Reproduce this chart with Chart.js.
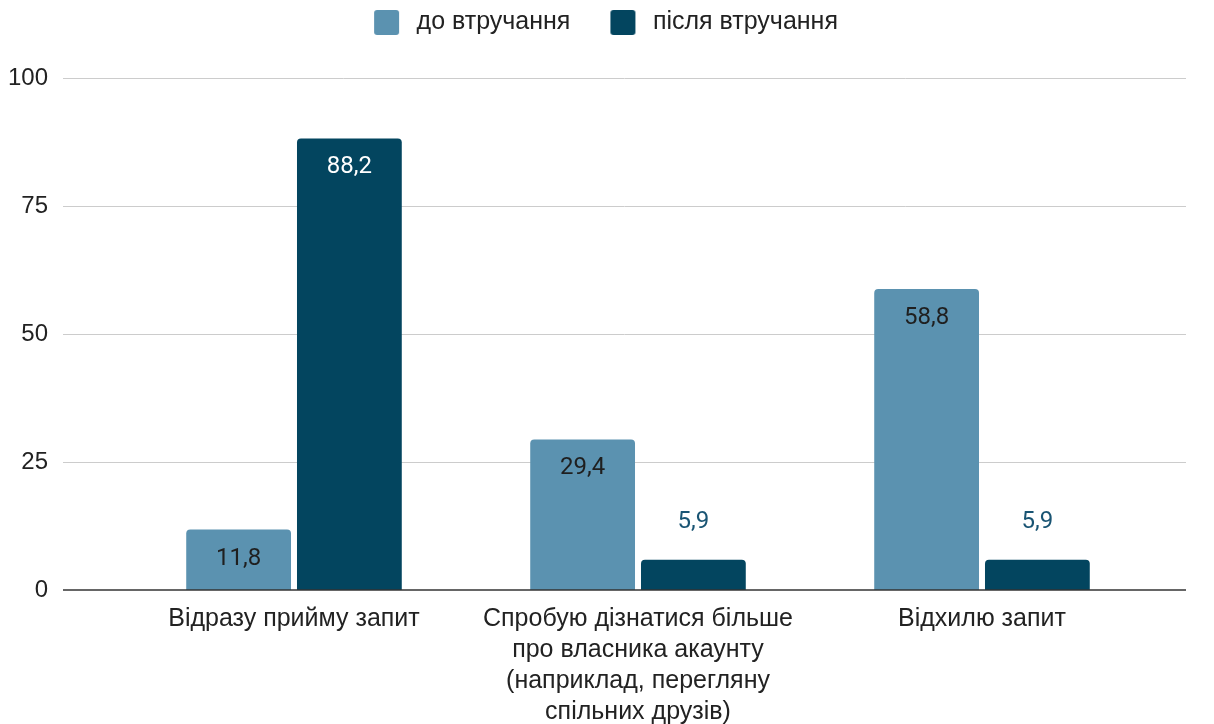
<!DOCTYPE html>
<html>
<head>
<meta charset="utf-8">
<script src="https://cdn.jsdelivr.net/npm/chart.js@4/dist/chart.umd.min.js"></script>
<style>
  html, body { margin: 0; padding: 0; background: #fff; }
  #wrap { width: 1214px; height: 724px; position: relative; }
</style>
</head>
<body>
<div id="wrap"><canvas id="chart"></canvas></div>
<script>
// data
const categories = [
    'Відразу прийму запит',
    ['Спробую дізнатися більше', 'про власника акаунту', '(наприклад, перегляну', 'спільних друзів)'],
    'Відхилю запит'
];
const seriesNames = ['до втручання', 'після втручання'];
const beforeValues = [11.8, 29.4, 58.8];
const afterValues = [88.2, 5.9, 5.9];
const yTicks = [0, 25, 50, 75, 100];

const lightBlue = '#5b92b0';
const darkBlue = '#03455f';
const sans = '"Liberation Sans", Arial, sans-serif';
const labelFont = '24px Roboto, sans-serif';

// legend swatch: rounded square, blank room on the left so the items space out like Sheets
function swatch(color) {
    const c = document.createElement('canvas');
    c.width = 60; c.height = 25;
    const g = c.getContext('2d');
    g.fillStyle = color;
    g.beginPath();
    g.roundRect(30, 0, 25, 25, 3);
    g.fill();
    return c;
}

// gridlines and y labels sit further out than the plot, like in Sheets
const sheetGrid = {
    id: 'sheetGrid',
    beforeDatasetsDraw(chart) {
        const y = chart.scales.y;
        const ctx = chart.ctx;
        ctx.save();
        ctx.strokeStyle = '#cccccc';
        ctx.lineWidth = 1;
        ctx.font = '24px ' + sans;
        ctx.fillStyle = '#222222';
        ctx.textAlign = 'right';
        ctx.textBaseline = 'middle';
        y.ticks.forEach(t => {
            const py = Math.round(y.getPixelForValue(t.value)) + 0.5;
            ctx.fillText(String(t.value), 48, py);
            if (t.value === 0) return;
            ctx.beginPath();
            ctx.moveTo(63, py);
            ctx.lineTo(1186, py);
            ctx.stroke();
        });
        ctx.restore();
    },
    afterDatasetsDraw(chart) {
        const y = chart.scales.y;
        const ctx = chart.ctx;
        const py = y.getPixelForValue(0);
        ctx.save();
        ctx.strokeStyle = '#333333';
        ctx.lineWidth = 1.5;
        ctx.beginPath();
        ctx.moveTo(63, py);
        ctx.lineTo(1186, py);
        ctx.stroke();

        // value labels
        ctx.font = labelFont;
        ctx.textAlign = 'center';
        ctx.textBaseline = 'middle';
        chart.data.datasets.forEach((ds, di) => {
            chart.getDatasetMeta(di).data.forEach((bar, i) => {
                const v = ds.data[i];
                const txt = String(v).replace('.', ',');
                if (v > 10) {
                    ctx.fillStyle = di === 0 ? '#1f1f1f' : '#ffffff';
                    ctx.fillText(txt, bar.x, bar.y + 29);
                } else {
                    ctx.fillStyle = '#195473';
                    ctx.fillText(txt, bar.x, bar.y - 38);
                }
            });
        });
        ctx.restore();
    }
};

const ctx = document.getElementById('chart');
new Chart(ctx, {
    type: 'bar',
    data: {
        labels: categories,
        datasets: [
            {
                label: seriesNames[0],
                data: beforeValues,
                backgroundColor: lightBlue,
                borderRadius: 4,
                categoryPercentage: 0.644,
                barPercentage: 0.946
            },
            {
                label: seriesNames[1],
                data: afterValues,
                backgroundColor: darkBlue,
                borderRadius: 4,
                categoryPercentage: 0.644,
                barPercentage: 0.946
            }
        ]
    },
    options: {
        responsive: true,
        maintainAspectRatio: false,
        animation: false,
        layout: { padding: { top: 0, right: 32, bottom: 0, left: 0 } },
        plugins: {
            tooltip: { enabled: false },
            legend: {
                position: 'top',
                labels: {
                    usePointStyle: true,
                    pointStyleWidth: 60,
                    padding: 10,
                    color: '#222222',
                    font: { family: sans, size: 25 },
                    generateLabels(chart) {
                        const items = Chart.defaults.plugins.legend.labels.generateLabels(chart);
                        items.forEach((it, i) => {
                            it.pointStyle = swatch(i === 0 ? lightBlue : darkBlue);
                        });
                        return items;
                    }
                }
            }
        },
        scales: {
            xTop: {
                type: 'category',
                position: 'top',
                grid: { display: false },
                border: { display: false },
                ticks: { display: false },
                afterFit(s) { s.height = 33; }
            },
            x: {
                grid: { display: false },
                border: { display: false },
                ticks: {
                    color: '#222222',
                    font: { family: sans, size: 25, lineHeight: 1.24 },
                    padding: 6,
                    maxRotation: 0,
                    autoSkip: false
                },
                afterFit(s) { s.height = 134; }
            },
            y: {
                min: 0,
                max: 100,
                grid: { display: false, drawTicks: false },
                border: { display: false },
                afterBuildTicks(s) { s.ticks = yTicks.map(v => ({ value: v })); },
                ticks: { display: false },
                afterFit(s) { s.width = 122; }
            },
            yRight: {
                position: 'right',
                grid: { display: false },
                border: { display: false },
                ticks: { display: false },
                afterFit(s) { s.width = 28; }
            }
        }
    },
    plugins: [sheetGrid]
});
</script>
</body>
</html>
